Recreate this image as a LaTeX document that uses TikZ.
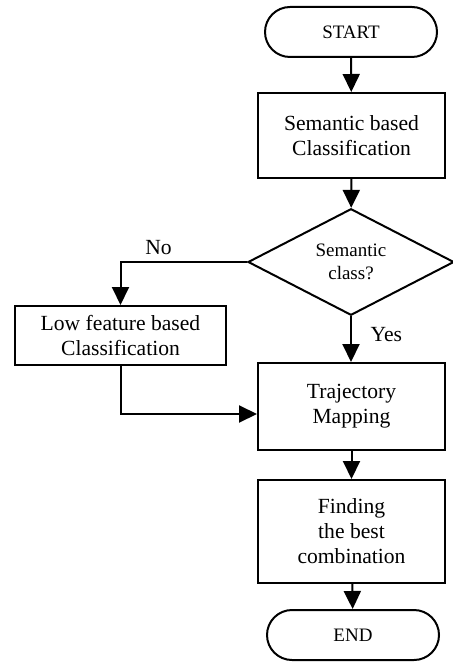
\documentclass[tikz,border=0pt]{standalone}
\usepackage{fontspec}
\setmainfont{Liberation Serif}
\usetikzlibrary{shapes.geometric}
\usetikzlibrary{arrows.meta}

\begin{document}
\begin{tikzpicture}[
    x=0.5pt, y=-0.5pt,
    terminal/.style={rectangle, rounded corners=12.5pt, draw, line width=1pt, minimum width=86pt, minimum height=25pt, font=\fontsize{9.5}{11}\selectfont},
    process/.style={rectangle, draw, line width=1pt, minimum width=93.5pt, align=center, font=\fontsize{10.8}{12.5}\selectfont},
    decision/.style={diamond, draw, line width=1pt, inner sep=0pt, minimum width=103pt, minimum height=51.5pt, align=center, font=\fontsize{9.5}{11.5}\selectfont},
    flow/.style={line width=1pt, -{Triangle[length=9pt,width=8.5pt]}},
    label/.style={font=\fontsize{10.8}{12.5}\selectfont}
]
\useasboundingbox (0,0) rectangle (452,662);

% Define blocks
\node[terminal] (start) at (351, 32) {START};
\node[process, minimum height=42.5pt] (semantic) at (351.5, 135.5) {Semantic based\\Classification};
\node[decision] (check) at (351, 262) {Semantic\\class?};
\node[process, minimum width=105.5pt, minimum height=29.5pt] (lowfeat) at (120.5, 335.5) {Low feature based\\Classification};
\node[process, minimum height=43.5pt] (traj) at (351.5, 406.5) {Trajectory\\Mapping};
\node[process, minimum height=51.5pt] (best) at (351.5, 531.5) {Finding\\the best\\combination};
\node[terminal] (stop) at (353, 635) {END};

% Define flow
\draw[flow] (start) -- (semantic);
\draw[flow] (semantic) -- (check);
\draw[flow] (check.west) -| node[label, pos=0.35, above] {No} (lowfeat.north);
\draw[flow] (check.south) -- node[label, right=6pt, pos=0.4] {Yes} (traj.north -| check.south);
\draw[flow] (lowfeat.south) |- (traj.west |- 0,414);
\draw[flow] (traj) -- (best);
\draw[flow] (best) -- (stop);

\end{tikzpicture}
\end{document}
